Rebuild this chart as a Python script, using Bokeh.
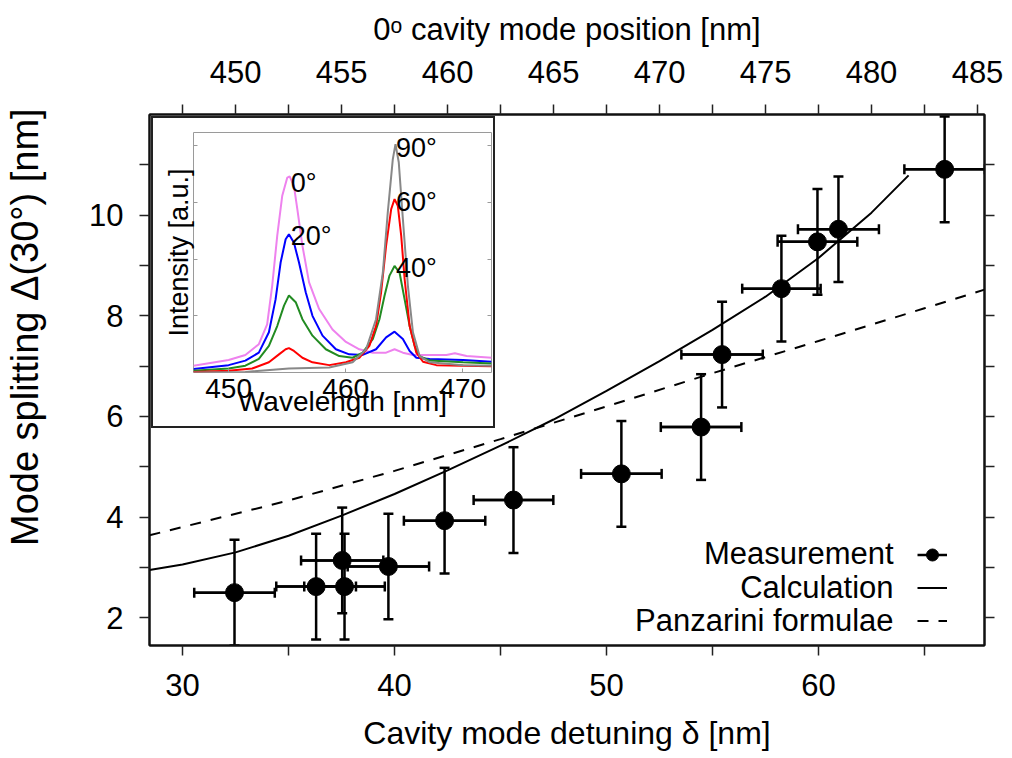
from bokeh.plotting import figure
from bokeh.models import (Range1d, LinearAxis, FixedTicker, Whisker, TeeHead,
                          ColumnDataSource, Legend, LegendItem, Label)
from bokeh.embed import file_html
from bokeh.resources import INLINE
from bokeh.core.properties import value

FONT = "Liberation Sans"

# ---------------- main data ----------------
meas_x = [32.45, 36.30, 37.53, 37.64, 39.71, 42.36, 45.61, 50.70, 54.46, 55.45, 58.25, 59.95, 60.94, 65.95]
meas_y = [2.50, 2.62, 3.14, 2.62, 3.02, 3.93, 4.34, 4.86, 5.79, 7.23, 8.54, 9.47, 9.72, 10.91]
meas_xerr = [1.90, 1.88, 1.94, 1.90, 1.92, 1.92, 1.88, 1.90, 1.90, 1.92, 1.85, 1.88, 1.91, 1.90]
meas_yerr = [1.05, 1.05, 1.05, 1.05, 1.05, 1.05, 1.05, 1.05, 1.05, 1.05, 1.05, 1.05, 1.05, 1.05]

calc_x = [28.44, 30.0, 32.5, 35.0, 37.5, 40.0, 42.5, 45.0, 47.5, 50.0, 52.5, 55.0, 57.5, 60.0, 62.5, 64.25]
calc_y = [2.95, 3.06, 3.30, 3.63, 4.03, 4.46, 4.93, 5.42, 5.94, 6.51, 7.10, 7.72, 8.38, 9.15, 10.05, 10.79]

panz_x = [28.44, 35.0, 40.0, 45.0, 50.0, 55.0, 60.0, 65.0, 67.83]
panz_y = [3.64, 4.33, 4.92, 5.55, 6.20, 6.86, 7.50, 8.15, 8.52]

x_ticks = [30, 40, 50, 60]
x_minor = [35, 45, 55, 65]
y_ticks = [2, 4, 6, 8, 10]
y_minor = [3, 5, 7, 9, 11]
top_ticks = [450, 455, 460, 465, 470, 475, 480, 485]
top_minor = [447.5, 452.5, 457.5, 462.5, 467.5, 472.5, 477.5, 482.5]
top_axis_offset = 417.5   # 0 deg cavity mode position = detuning + offset

legend_labels = ["Measurement", "Calculation", "Panzarini formulae"]

# ---------------- inset data ----------------
sp0_x = [447.00, 450.00, 451.43, 452.58, 453.29, 453.72, 454.15, 454.58, 455.01, 455.21, 455.58, 455.87, 456.30, 456.87, 457.73, 458.87, 460.02, 461.16, 462.31, 463.45, 464.17, 464.88, 465.74, 468.60, 469.32, 470.32, 472.46]
sp0_y = [0.12, 0.22, 0.31, 0.50, 0.85, 1.53, 2.41, 3.12, 3.44, 3.46, 3.29, 2.88, 2.24, 1.59, 1.12, 0.76, 0.54, 0.41, 0.35, 0.35, 0.41, 0.35, 0.31, 0.31, 0.34, 0.29, 0.26]

sp20_x = [447.00, 450.00, 451.43, 452.58, 453.44, 454.01, 454.44, 454.87, 455.15, 455.58, 456.01, 456.59, 457.16, 458.02, 459.16, 460.30, 461.45, 462.59, 463.45, 464.17, 464.88, 465.46, 466.03, 467.17, 470.03, 472.46]
sp20_y = [0.06, 0.13, 0.21, 0.35, 0.71, 1.29, 1.94, 2.35, 2.44, 2.29, 1.94, 1.41, 1.00, 0.65, 0.41, 0.32, 0.31, 0.41, 0.62, 0.72, 0.59, 0.38, 0.26, 0.24, 0.22, 0.19]

sp40_x = [447.00, 450.00, 451.43, 452.58, 453.44, 454.15, 454.73, 455.15, 455.73, 456.30, 457.16, 458.30, 459.45, 460.59, 461.45, 462.31, 462.88, 463.31, 463.74, 464.17, 464.60, 465.03, 465.46, 465.89, 466.31, 467.17, 470.03, 472.46]
sp40_y = [0.03, 0.07, 0.12, 0.24, 0.47, 0.82, 1.18, 1.36, 1.24, 0.94, 0.65, 0.41, 0.29, 0.26, 0.35, 0.59, 0.94, 1.35, 1.71, 1.88, 1.76, 1.29, 0.82, 0.47, 0.29, 0.21, 0.18, 0.16]

sp60_x = [447.00, 450.00, 452.01, 453.44, 454.30, 454.87, 455.15, 455.58, 456.30, 457.16, 458.59, 460.02, 461.16, 462.02, 462.59, 463.02, 463.45, 463.88, 464.17, 464.45, 464.74, 465.03, 465.46, 466.03, 466.60, 467.74, 470.03, 472.46]
sp60_y = [0.01, 0.03, 0.07, 0.18, 0.32, 0.41, 0.43, 0.38, 0.26, 0.18, 0.13, 0.18, 0.26, 0.47, 0.82, 1.41, 2.24, 2.88, 3.06, 2.94, 2.41, 1.65, 0.82, 0.35, 0.19, 0.13, 0.12, 0.11]

sp90_x = [447.00, 451.43, 455.15, 458.59, 460.59, 461.74, 462.59, 463.17, 463.59, 464.02, 464.25, 464.53, 464.88, 465.31, 465.74, 466.31, 467.17, 470.03, 472.46]
sp90_y = [0.00, 0.01, 0.07, 0.09, 0.18, 0.41, 0.94, 1.76, 2.82, 3.76, 4.03, 3.71, 2.71, 1.53, 0.71, 0.29, 0.18, 0.13, 0.12]

spec_labels = ["0°", "20°", "40°", "60°", "90°"]
spec_colors = ["#ee82ee", "#0000ff", "#228b22", "#ff0000", "#888888"]
spec_label_x = [455.3, 455.3, 464.3, 464.3, 464.3]
spec_label_y = [3.35, 2.41, 1.85, 3.00, 3.97]

# ---------------- main figure ----------------
p = figure(width=1012, height=758, x_range=Range1d(28.44, 67.83), y_range=Range1d(1.45, 12.0),
           output_backend="svg", toolbar_location=None,
           min_border_left=149, min_border_right=28, min_border_top=114, min_border_bottom=113)
p.grid.visible = False
p.outline_line_color = "#111111"
p.outline_line_width = 2
p.background_fill_color = "white"
p.border_fill_color = "white"

p.extra_x_ranges = {"top": Range1d(28.44 + top_axis_offset, 67.83 + top_axis_offset)}


def style_axis(ax, ticks, minor, size="31px"):
    ax.ticker = FixedTicker(ticks=ticks, minor_ticks=minor)
    ax.major_tick_out = 10
    ax.major_tick_in = 0
    ax.minor_tick_out = 10
    ax.minor_tick_in = 0
    ax.major_tick_line_width = 1.5
    ax.minor_tick_line_width = 1.5
    ax.major_tick_line_color = "#222222"
    ax.minor_tick_line_color = "#222222"
    ax.axis_line_width = 2
    ax.axis_line_color = "#111111"
    ax.major_label_text_font = FONT
    ax.major_label_text_font_size = size
    ax.major_label_text_color = "black"
    ax.axis_label_text_font = FONT
    ax.axis_label_text_font_size = size
    ax.axis_label_text_font_style = "normal"
    ax.axis_label_text_color = "black"


xb = p.xaxis[0]
style_axis(xb, x_ticks, x_minor)
xb.axis_label = "Cavity mode detuning δ [nm]"
xb.axis_label_text_font_size = "32px"
xb.major_label_standoff = 18
xb.axis_label_standoff = 16

yl = p.yaxis[0]
style_axis(yl, y_ticks, y_minor)
yl.axis_label = "\u00a0" * 10 + "Mode splitting Δ(30°) [nm]"
yl.axis_label_text_font_size = "38px"
yl.major_label_standoff = 16
yl.axis_label_standoff = 40

xt = LinearAxis(x_range_name="top")
style_axis(xt, top_ticks, top_minor)
xt.axis_label = "0ᵒ cavity mode position [nm]"
xt.major_label_standoff = 22
xt.axis_label_standoff = 11
p.add_layout(xt, "above")

yr = LinearAxis()
style_axis(yr, y_ticks, y_minor)
yr.major_label_overrides = {t: "" for t in y_ticks}
yr.major_label_standoff = 0
p.add_layout(yr, "right")

# measurements
src = ColumnDataSource(dict(
    x=meas_x, y=meas_y,
    xlo=[a - e for a, e in zip(meas_x, meas_xerr)], xhi=[a + e for a, e in zip(meas_x, meas_xerr)],
    ylo=[a - e for a, e in zip(meas_y, meas_yerr)], yhi=[a + e for a, e in zip(meas_y, meas_yerr)],
))
wx = Whisker(source=src, base="y", lower="xlo", upper="xhi", dimension="width",
             line_width=2.5, line_color="black",
             upper_head=TeeHead(size=10, line_width=2.5, line_color="black"),
             lower_head=TeeHead(size=10, line_width=2.5, line_color="black"))
wy = Whisker(source=src, base="x", lower="ylo", upper="yhi", dimension="height",
             line_width=2.5, line_color="black",
             upper_head=TeeHead(size=10, line_width=2.5, line_color="black"),
             lower_head=TeeHead(size=10, line_width=2.5, line_color="black"))
p.add_layout(wx)
p.add_layout(wy)
hseg = p.segment(x0="xlo", y0="y", x1="xhi", y1="y", source=src, line_width=2.5, line_color="black")
pts = p.scatter("x", "y", source=src, size=18, color="black")

calc_r = p.line(calc_x, calc_y, line_width=2, line_color="black")
panz_r = p.line(panz_x, panz_y, line_width=2, line_color="black", line_dash="11 10")

legend = Legend(items=[LegendItem(label=" ", renderers=[hseg, pts]),
                       LegendItem(label=" ", renderers=[calc_r]),
                       LegendItem(label=" ", renderers=[panz_r])],
                location=(768, 8), orientation="vertical", glyph_width=30, glyph_height=33,
                spacing=0, padding=0, margin=0, label_standoff=0, label_width=0, label_height=10,
                label_text_font_size="8px", border_line_alpha=0, background_fill_alpha=0)
p.add_layout(legend)

legend_y = [3.27, 2.61, 1.94]
for txt, ly in zip(legend_labels, legend_y):
    p.add_layout(Label(x=63.54, y=ly, text=txt, text_align="right", text_baseline="middle",
                       text_font=FONT, text_font_size="31px", text_color="black"))

# ---------------- inset figure ----------------
ins = figure(width=344, height=312, x_range=Range1d(447.0, 472.45), y_range=Range1d(0, 4.235),
             output_backend="svg", toolbar_location=None,
             min_border_left=40, min_border_right=6, min_border_top=14, min_border_bottom=58)
ins.grid.visible = False
ins.outline_line_color = "#9a9a9a"
ins.outline_line_width = 1
ins.background_fill_color = "white"
ins.border_fill_color = "white"

ixa = ins.xaxis[0]
ixa.ticker = FixedTicker(ticks=[450, 460, 470], minor_ticks=[])
ixa.major_tick_in = 4
ixa.major_tick_out = 0
ixa.major_tick_line_color = "#9a9a9a"
ixa.axis_line_color = None
ixa.major_label_text_font = FONT
ixa.major_label_text_font_size = "28px"
ixa.major_label_text_color = "black"
ixa.major_label_standoff = 6
ixa.axis_label = "Wavelength [nm]"
ixa.axis_label_text_font = FONT
ixa.axis_label_text_font_size = "28px"
ixa.axis_label_text_font_style = "normal"
ixa.axis_label_text_color = "black"
ixa.axis_label_standoff = -15

iya = ins.yaxis[0]
iya.ticker = FixedTicker(ticks=[1, 2, 3, 4], minor_ticks=[])
iya.major_tick_in = 4
iya.major_tick_out = 0
iya.major_tick_line_color = "#9a9a9a"
iya.axis_line_color = None
iya.major_label_overrides = {t: "" for t in [1, 2, 3, 4]}
iya.major_label_standoff = 0
iya.axis_label = "Intensity [a.u.]"
iya.axis_label_text_font = FONT
iya.axis_label_text_font_size = "27px"
iya.axis_label_text_font_style = "normal"
iya.axis_label_text_color = "black"
iya.axis_label_standoff = 0

iyr = LinearAxis(ticker=FixedTicker(ticks=[1, 2, 3, 4], minor_ticks=[]))
iyr.major_tick_in = 4
iyr.major_tick_out = 0
iyr.major_tick_line_color = "#9a9a9a"
iyr.axis_line_color = None
iyr.major_label_overrides = {t: "" for t in [1, 2, 3, 4]}
iyr.major_label_standoff = 0
ins.add_layout(iyr, "right")

spectra = [(sp0_x, sp0_y), (sp20_x, sp20_y), (sp40_x, sp40_y), (sp60_x, sp60_y), (sp90_x, sp90_y)]
for (sx, sy), col in zip(spectra, spec_colors):
    ins.line(sx, sy, line_color=col, line_width=2)

lab_src = ColumnDataSource(dict(x=spec_label_x, y=spec_label_y, t=spec_labels))
ins.text(x="x", y="y", text="t", source=lab_src, text_font=value(FONT), text_font_size="27px",
         text_baseline="middle", text_align="left", text_color="black")

ins.styles = {"position": "absolute", "left": "151px", "top": "116px",
              "border": "2px solid #222222", "z-index": "10"}

open("out.html", "w").write(file_html((p, ins), INLINE))
